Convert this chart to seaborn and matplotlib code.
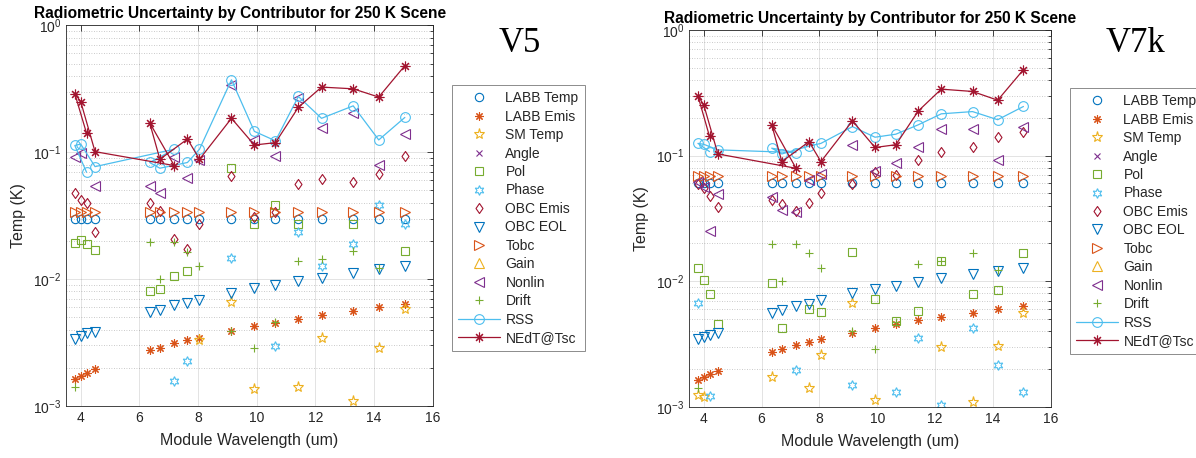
import numpy as np
import pandas as pd
import matplotlib
matplotlib.use("Agg")
import matplotlib.pyplot as plt
from matplotlib.lines import Line2D
from matplotlib.path import Path
from matplotlib.ticker import LogLocator, NullLocator
import seaborn as sns

nan = np.nan

# ---------------- data ----------------
wavelength = [3.80, 4.00, 4.20, 4.49, 6.35, 6.70, 7.19, 7.64, 8.05, 9.14,
              9.92, 10.64, 11.42, 12.21, 13.29, 14.16, 15.05]
# order in which the modules are stored (used for the connecting lines)
line_order = [2, 0, 1, 3, 6, 4, 5, 7, 8, 9, 10, 11, 12, 13, 14, 15, 16]

series_names = ["LABB Temp", "LABB Emis", "SM Temp", "Angle", "Pol", "Phase",
                "OBC Emis", "OBC EOL", "Tobc", "Gain", "Nonlin", "Drift",
                "RSS", "NEdT@Tsc"]

# ---- V5 ----
labb_temp_v5 = [0.030, 0.030, 0.030, 0.030, 0.030, 0.030, 0.030, 0.030, 0.030,
                0.030, 0.030, 0.030, 0.030, 0.030, 0.030, 0.030, 0.030]
labb_emis_v5 = [0.00164, 0.00171, 0.00182, 0.00194, 0.00275, 0.00287, 0.00314,
                0.00330, 0.00346, 0.00391, 0.00428, 0.00455, 0.00489, 0.00520,
                0.00562, 0.00605, 0.00635]
sm_temp_v5 = [nan, nan, nan, nan, nan, nan, nan, nan, 0.0033, 0.00662, 0.00137,
              nan, 0.00141, 0.00346, 0.00109, 0.00284, 0.00577]
angle_v5 = [nan, nan, nan, nan, nan, nan, nan, nan, nan, nan, nan, nan, nan,
            nan, nan, nan, nan]
pol_v5 = [0.0191, 0.0203, 0.0189, 0.0171, 0.0081, 0.0083, 0.01056, 0.01164, nan,
          0.0757, 0.0273, 0.0386, 0.0272, nan, 0.0271, nan, 0.0168]
phase_v5 = [nan, nan, nan, nan, nan, nan, 0.00157, 0.00226, nan, 0.0148, nan,
            0.00296, 0.0237, 0.0127, 0.0189, 0.0384, 0.0272]
obc_emis_v5 = [0.0474, 0.0420, 0.0396, 0.0234, 0.0396, 0.0346, 0.0206, 0.0173,
               0.0272, 0.0650, 0.0307, 0.0336, 0.0562, 0.0619, 0.0580, 0.0675,
               0.0935]
obc_eol_v5 = [0.00340, 0.00355, 0.00373, 0.00384, 0.00552, 0.00576, 0.00624,
              0.00651, 0.00683, 0.00780, 0.00855, 0.00897, 0.00965, 0.01025,
              0.0111, 0.0121, 0.0127]
tobc_v5 = [0.034, 0.034, 0.034, 0.034, 0.034, 0.034, 0.034, 0.034, 0.034,
           0.034, 0.034, 0.034, 0.034, 0.034, 0.034, 0.034, 0.034]
gain_v5 = [nan, nan, nan, nan, nan, nan, nan, nan, nan, nan, nan, nan, nan,
           nan, nan, nan, nan]
nonlin_v5 = [0.0924, 0.098, nan, 0.0546, 0.0546, 0.0474, 0.0924, 0.0623, 0.087,
             0.34, 0.125, 0.094, 0.267, 0.155, 0.203, 0.0794, 0.140]
drift_v5 = [0.0014, nan, nan, nan, 0.0197, 0.0101, 0.0195, 0.0165, 0.0127,
            0.0039, 0.00285, 0.0046, 0.0139, 0.0144, 0.0167, 0.0122, nan]
rss_v5 = [0.113, 0.116, 0.0695, 0.077, 0.083, 0.0748, 0.1056, 0.083, 0.1056,
          0.372, 0.146, 0.123, 0.275, 0.185, 0.232, 0.125, 0.188]
nedt_v5 = [0.289, 0.251, 0.141, 0.101, 0.171, 0.088, 0.0785, 0.127, 0.088,
           0.185, 0.114, 0.119, 0.226, 0.326, 0.316, 0.272, 0.481]

# ---- V7k ----
labb_temp_v7k = [0.060, 0.060, 0.060, 0.060, 0.060, 0.060, 0.060, 0.060, 0.060,
                 0.060, 0.060, 0.060, 0.060, 0.060, 0.060, 0.060, 0.060]
labb_emis_v7k = [0.00164, 0.00173, 0.00183, 0.00193, 0.00273, 0.00287, 0.00308,
                 0.00327, 0.00344, 0.00389, 0.00427, 0.00459, 0.00489, 0.00519,
                 0.00562, 0.00605, 0.00636]
sm_temp_v7k = [0.00124, 0.00120, nan, nan, 0.00173, nan, nan, 0.00142, 0.00257,
               0.00666, 0.00113, nan, nan, 0.0030, 0.00109, 0.00303, 0.00555]
angle_v7k = [nan, nan, nan, nan, nan, nan, nan, nan, nan, nan, nan, nan, nan,
             nan, nan, nan, nan]
pol_v7k = [0.0128, 0.0102, 0.00792, 0.00454, 0.0097, 0.00425, nan, 0.00598,
           0.00569, 0.0171, 0.00718, 0.0048, 0.00577, 0.0145, 0.00783, 0.00853,
           0.0167]
phase_v7k = [0.00664, nan, 0.00122, nan, nan, nan, 0.00195, nan, nan, 0.00148,
             nan, 0.00132, 0.00353, 0.00104, 0.00425, 0.00216, 0.00132]
obc_emis_v7k = [0.059, 0.0548, 0.048, 0.0392, 0.0442, 0.0411, 0.0362, 0.0417,
                0.0507, 0.059, 0.0745, 0.0701, 0.0923, 0.106, 0.118, 0.140, 0.153]
obc_eol_v7k = [0.00349, 0.0036, 0.00375, 0.00389, 0.00562, 0.00587, 0.00636,
               0.00663, 0.00705, 0.00798, 0.00859, 0.00912, 0.00988, 0.01064,
               0.0115, 0.0120, 0.0128]
tobc_v7k = [0.069, 0.069, 0.069, 0.069, 0.069, 0.069, 0.069, 0.069, 0.069,
            0.069, 0.069, 0.069, 0.069, 0.069, 0.069, 0.069, 0.069]
gain_v7k = [nan, nan, nan, nan, nan, nan, nan, nan, nan, nan, nan, nan, nan,
            nan, nan, nan, nan]
nonlin_v7k = [0.0612, 0.0566, 0.025, 0.049, 0.0471, 0.0368, 0.0357, 0.064,
              0.0714, 0.1216, 0.0759, 0.0879, 0.118, 0.162, 0.163, 0.0923, 0.169]
drift_v7k = [0.0014, nan, nan, nan, 0.0196, 0.0100, 0.0196, 0.0166, 0.0128,
             0.0040, 0.0029, 0.0047, 0.0138, 0.0145, 0.0166, 0.0122, nan]
rss_v7k = [0.125, 0.123, 0.1076, 0.111, 0.1145, 0.103, 0.1057, 0.119, 0.125,
           0.170, 0.140, 0.148, 0.176, 0.215, 0.224, 0.193, 0.246]
nedt_v7k = [0.299, 0.254, 0.142, 0.103, 0.176, 0.0895, 0.0792, 0.129, 0.0895,
            0.189, 0.116, 0.122, 0.227, 0.338, 0.324, 0.276, 0.483]

v5 = [labb_temp_v5, labb_emis_v5, sm_temp_v5, angle_v5, pol_v5, phase_v5,
      obc_emis_v5, obc_eol_v5, tobc_v5, gain_v5, nonlin_v5, drift_v5, rss_v5,
      nedt_v5]
v7k = [labb_temp_v7k, labb_emis_v7k, sm_temp_v7k, angle_v7k, pol_v7k,
       phase_v7k, obc_emis_v7k, obc_eol_v7k, tobc_v7k, gain_v7k, nonlin_v7k,
       drift_v7k, rss_v7k, nedt_v7k]

# ---------------- styles ----------------
C = ['#0072BD', '#D95319', '#EDB120', '#7E2F8E', '#77AC30', '#4DBEEE', '#A2142F']
AST = (8, 2, 0)
HEX = (6, 1, 0)
DIAM = Path([(0, 1), (0.7, 0), (0, -1), (-0.7, 0), (0, 1)],
            [Path.MOVETO, Path.LINETO, Path.LINETO, Path.LINETO, Path.CLOSEPOLY])
styles = {
    "LABB Temp": dict(marker='o', color=C[0], ms=6.0),
    "LABB Emis": dict(marker=AST, color=C[1], ms=6.0),
    "SM Temp": dict(marker='*', color=C[2], ms=8.0),
    "Angle": dict(marker='x', color=C[3], ms=5.0),
    "Pol": dict(marker='s', color=C[4], ms=5.4),
    "Phase": dict(marker=HEX, color=C[5], ms=7.0),
    "OBC Emis": dict(marker=DIAM, color=C[6], ms=7.2),
    "OBC EOL": dict(marker='v', color=C[0], ms=6.5),
    "Tobc": dict(marker='>', color=C[1], ms=6.5),
    "Gain": dict(marker='^', color=C[2], ms=6.5),
    "Nonlin": dict(marker='<', color=C[3], ms=6.5),
    "Drift": dict(marker='+', color=C[4], ms=6.0),
    "RSS": dict(marker='o', color=C[5], ms=7.0, line=True),
    "NEdT@Tsc": dict(marker=AST, color=C[6], ms=7.0, line=True),
}

sns.set_style("white")
plt.rcParams['font.family'] = ['Liberation Sans', 'DejaVu Sans']
plt.rcParams['mathtext.fontset'] = 'custom'
plt.rcParams['mathtext.rm'] = 'Liberation Sans'

TXT = '#262626'

fig = plt.figure(figsize=(11.96, 4.58), dpi=100)
ax1 = fig.add_axes([0.0552, 0.1135, 0.3066, 0.8312])
ax2 = fig.add_axes([0.5763, 0.1120, 0.3024, 0.8225])


def draw(ax, values, title_x):
    ax.set_yscale('log')
    data = {"wl": wavelength}
    for name, vals in zip(series_names, values):
        data[name] = vals
    df = pd.DataFrame(data)
    for name in series_names:
        st = styles[name]
        if df[name].notna().sum() == 0:
            continue
        if st.get("line"):
            sub = df.iloc[line_order][["wl", name]]
            sns.lineplot(data=sub, x="wl", y=name, ax=ax, sort=False,
                         estimator=None, color=st["color"], lw=0.9,
                         marker=st["marker"], ms=st["ms"], mfc='none',
                         mec=st["color"], mew=0.8)
        else:
            sub = df[["wl", name]].dropna()
            sns.lineplot(data=sub, x="wl", y=name, ax=ax, sort=False,
                         estimator=None, color=st["color"], linestyle='',
                         marker=st["marker"], ms=st["ms"], mfc='none',
                         mec=st["color"], mew=0.8)
    ax.set_xlim(3.5, 16)
    ax.set_ylim(1e-3, 1)
    ax.set_xticks([4, 6, 8, 10, 12, 14, 16])
    ax.xaxis.set_minor_locator(NullLocator())
    ax.yaxis.set_major_locator(LogLocator(base=10, numticks=10))
    ax.yaxis.set_minor_locator(LogLocator(base=10, subs=np.arange(2, 10), numticks=30))
    ax.grid(True, which='major', color='#262626', alpha=0.15, lw=0.6, ls='-')
    ax.grid(True, which='minor', axis='y', color='#262626', alpha=0.32, lw=0.6,
            ls=(0, (1, 2)))
    ax.set_axisbelow(True)
    ax.tick_params(which='both', direction='in', top=True, right=True,
                   color=TXT, labelcolor=TXT, labelsize=10, width=0.6)
    ax.tick_params(which='major', length=4)
    ax.tick_params(which='minor', length=2)
    for sp in ax.spines.values():
        sp.set_color(TXT)
        sp.set_linewidth(0.6)
    ax.set_xlabel("Module Wavelength (um)", fontsize=11.5, color=TXT, labelpad=6)
    ax.set_ylabel("Temp (K)", fontsize=11.5, color=TXT, labelpad=5)
    ax.set_title("Radiometric Uncertainty by Contributor for 250 K Scene",
                 fontsize=11.2, fontweight='bold', color='black', pad=5,
                 x=title_x)


draw(ax1, v5, 0.4745)
draw(ax2, v7k, 0.5)


def make_legend(anchor):
    handles = []
    for name in series_names:
        st = styles[name]
        handles.append(Line2D([], [], marker=st["marker"], ms=st["ms"],
                              mfc='none', mec=st["color"], mew=0.8,
                              color=st["color"], lw=0.9,
                              ls='-' if st.get("line") else 'none'))
    leg = fig.legend(handles, series_names, loc='upper left',
                     bbox_to_anchor=anchor, bbox_transform=fig.transFigure,
                     frameon=True, fancybox=False, edgecolor='#8c8c8c',
                     fontsize=10, handlelength=3.0, handletextpad=0.4,
                     labelspacing=0.32, borderpad=0.45, borderaxespad=0,
                     numpoints=1, framealpha=1)
    leg.get_frame().set_linewidth(0.7)
    return leg


make_legend((0.3779, 0.8144))
make_legend((0.8946, 0.8079))

fig.text(0.4348, 0.904, "V5", family='Liberation Serif', fontsize=25,
         ha='center', va='center', color='black')
fig.text(0.949, 0.904, "V7k", family='Liberation Serif', fontsize=25,
         ha='center', va='center', color='black')

fig.savefig("out.png", dpi=100)
